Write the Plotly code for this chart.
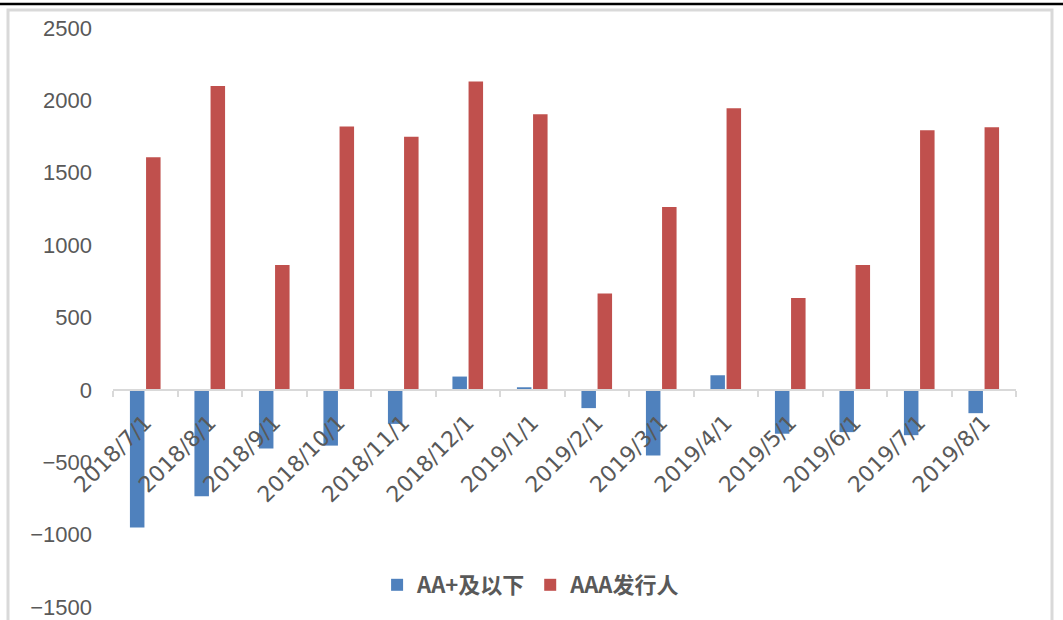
import plotly.graph_objects as go

# Monthly net financing by issuer rating
months = ["2018/7/1", "2018/8/1", "2018/9/1", "2018/10/1", "2018/11/1", "2018/12/1",
          "2019/1/1", "2019/2/1", "2019/3/1", "2019/4/1", "2019/5/1", "2019/6/1",
          "2019/7/1", "2019/8/1"]
aa_plus_below = [-950, -735, -405, -385, -235, 92, 18, -126, -453, 101, -303, -292, -313, -161]
aaa_issuers = [1607, 2100, 862, 1820, 1748, 2130, 1905, 665, 1264, 1945, 635, 862, 1793, 1814]

series_names = ["AA+及以下", "AAA发行人"]
series_colors = ["#4F81BD", "#C0504D"]
y_ticks = [-1500, -1000, -500, 0, 500, 1000, 1500, 2000, 2500]

y_min, y_max = -1500, 2500
zero_pos = (0 - y_min) / (y_max - y_min)

fig = go.Figure()
for name, vals, color in zip(series_names, [aa_plus_below, aaa_issuers], series_colors):
    fig.add_trace(go.Bar(
        x=months, y=vals, name=name,
        marker=dict(color=color, line=dict(width=0)),
    ))

fig.update_layout(
    width=1063, height=620,
    margin=dict(l=113, r=47, t=28, b=13, autoexpand=False),
    paper_bgcolor="white", plot_bgcolor="white",
    barmode="group", bargap=0.5, bargroupgap=0.1,
    font=dict(family="Liberation Sans, Arial, sans-serif", color="#595959"),
    showlegend=True,
    legend=dict(
        orientation="h", x=0.463, y=0.038, xanchor="center", yanchor="middle",
        font=dict(family="Noto Sans CJK SC, sans-serif", size=22, color="#595959",
                  weight="bold"),
        traceorder="normal", bgcolor="rgba(0,0,0,0)",
        itemwidth=30,
    ),
    xaxis=dict(
        type="category", anchor="free", position=zero_pos, automargin=False,
        showline=True, linecolor="#D9D9D9", linewidth=2,
        ticks="outside", tickson="boundaries", ticklen=6, tickcolor="#D9D9D9", tickwidth=2,
        tickangle=-45, ticklabelstandoff=10,
        tickfont=dict(family="DejaVu Sans, sans-serif", size=22, color="#595959"),
        showgrid=False, zeroline=False,
    ),
    yaxis=dict(
        range=[y_min, y_max], domain=[0, 1], automargin=False,
        tickvals=y_ticks, ticks="", showline=False, showgrid=False, zeroline=False,
        tickfont=dict(size=22, color="#595959"), ticklabelstandoff=20,
    ),
    shapes=[
        # outer chart frame
        dict(type="rect", xref="paper", yref="paper",
             x0=-105 / 903, x1=(1052 - 113) / 903, y0=-0.1, y1=(607 - 10) / 579,
             line=dict(color="#D9D9D9", width=3), fillcolor="rgba(0,0,0,0)", layer="below"),
        # heavy rule across the top
        dict(type="line", xref="paper", yref="paper",
             x0=-113 / 903, x1=(1063 - 113) / 903, y0=(607 - 4) / 579, y1=(607 - 4) / 579,
             line=dict(color="black", width=2.5)),
    ],
)

fig.write_html("out.html")
